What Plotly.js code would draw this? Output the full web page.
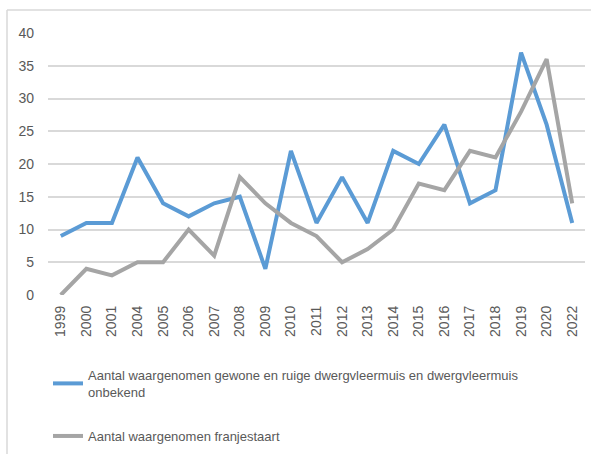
<!DOCTYPE html>
<html>
<head>
<meta charset="utf-8">
<script src="https://cdn.plot.ly/plotly-3.0.1.min.js"></script>
<style>html,body{margin:0;padding:0;background:#fff;}#chart{width:591px;height:454px;}</style>
</head>
<body>
<div id="chart"></div>
<script>
const years = ["1999","2000","2001","2004","2005","2006","2007","2008","2009","2010","2011","2012","2013","2014","2015","2016","2017","2018","2019","2020","2022"];
const dwergvleermuis = [9,11,11,21,14,12,14,15,4,22,11,18,11,22,20,26,14,16,37,26,11];
const franjestaart = [0,4,3,5,5,10,6,18,14,11,9,5,7,10,17,16,22,21,28,36,14];
const seriesNames = ["Aantal waargenomen gewone en ruige dwergvleermuis en dwergvleermuis<br>onbekend", "Aantal waargenomen franjestaart"];
const yTicks = [0,5,10,15,20,25,30,35,40];

const font = "Liberation Sans, Arial, sans-serif";
const data = [
  {x: years, y: dwergvleermuis, type: "scatter", mode: "lines", name: seriesNames[0],
   line: {color: "#5B9BD5", width: 4}, legend: "legend"},
  {x: years, y: franjestaart, type: "scatter", mode: "lines", name: seriesNames[1],
   line: {color: "#A5A5A5", width: 4}, legend: "legend2"}
];
const L = 48, T = 33, W = 537, H = 262;
function px(x){return (x-L)/W;}
function py(y){return (T+H-y)/H;}
function cy(y){return 1 - y/454;}
const layout = {
  width: 591, height: 454,
  margin: {l: L, r: 591-L-W, t: T, b: 454-T-H, pad: 0, autoexpand: false},
  paper_bgcolor: "#fff", plot_bgcolor: "#fff",
  font: {family: font, color: "#595959", size: 14},
  showlegend: true,
  xaxis: {type: "category", range: [-0.5, 20.5], tickangle: -90, showgrid: false, zeroline: false,
    showline: false, ticks: "", tickfont: {size: 14, color: "#595959"}, ticklabelstandoff: 7, fixedrange: true},
  yaxis: {range: [0, 40], tickvals: yTicks, showgrid: true, gridcolor: "#D9D9D9", gridwidth: 2,
    zeroline: false, showline: false, ticks: "", tickfont: {size: 14, color: "#595959"}, ticklabelstandoff: 13, fixedrange: true},
  legend: {xref: "container", yref: "container", x: 48/591, y: cy(360), xanchor: "left", yanchor: "top", bgcolor: "rgba(0,0,0,0)",
    font: {size: 13, color: "#595959", family: font}, itemwidth: 30},
  legend2: {xref: "container", yref: "container", x: 48/591, y: cy(421), xanchor: "left", yanchor: "top", bgcolor: "rgba(0,0,0,0)",
    font: {size: 13, color: "#595959", family: font}, itemwidth: 30},
  shapes: [
    {type: "line", xref: "paper", yref: "paper", x0: px(7), x1: px(600), y0: py(10), y1: py(10), line: {color: "#D9D9D9", width: 1.5}},
    {type: "line", xref: "paper", yref: "paper", x0: px(7), x1: px(7), y0: py(10), y1: py(460), line: {color: "#D9D9D9", width: 1.5}}
  ]
};
Plotly.newPlot("chart", data, layout, {staticPlot: true, displayModeBar: false});
</script>
</body>
</html>
